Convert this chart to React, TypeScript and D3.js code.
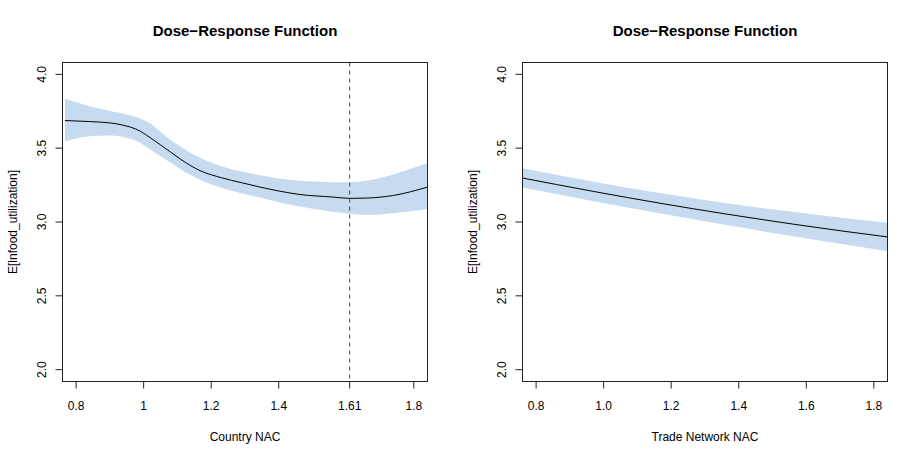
import * as d3 from "d3";

// Country NAC panel
const countryX = [0.767, 0.84, 0.9, 0.93, 0.99, 1.02, 1.05, 1.08, 1.11, 1.14, 1.17, 1.23, 1.29, 1.34, 1.4, 1.46, 1.56, 1.61, 1.66, 1.74, 1.84];
const countryFit = [3.687, 3.68, 3.671, 3.66, 3.615, 3.57, 3.522, 3.473, 3.424, 3.38, 3.345, 3.3, 3.266, 3.239, 3.21, 3.187, 3.169, 3.16, 3.162, 3.18, 3.236];
const countryLower = [3.547, 3.581, 3.586, 3.581, 3.535, 3.491, 3.445, 3.401, 3.356, 3.316, 3.282, 3.232, 3.195, 3.167, 3.133, 3.105, 3.07, 3.056, 3.048, 3.06, 3.088];
const countryUpper = [3.834, 3.784, 3.752, 3.739, 3.7, 3.667, 3.61, 3.556, 3.51, 3.468, 3.432, 3.378, 3.342, 3.318, 3.295, 3.28, 3.27, 3.27, 3.28, 3.322, 3.399];
const countryTicks = [0.8, 1, 1.2, 1.4, 1.61, 1.8];
const countryTickLabels = ["0.8", "1", "1.2", "1.4", "1.61", "1.8"];
const countryMarker = 1.61;

// Trade Network NAC panel
const tradeX = [0.75, 0.97, 1.17, 1.36, 1.56, 1.7, 1.85];
const tradeFit = [3.302, 3.207, 3.126, 3.055, 2.986, 2.941, 2.896];
const tradeLower = [3.237, 3.141, 3.057, 2.981, 2.903, 2.852, 2.799];
const tradeUpper = [3.367, 3.273, 3.195, 3.129, 3.069, 3.03, 2.993];
const tradeTicks = [0.8, 1.0, 1.2, 1.4, 1.6, 1.8];
const tradeTickLabels = ["0.8", "1.0", "1.2", "1.4", "1.6", "1.8"];

const yTicks = [2.0, 2.5, 3.0, 3.5, 4.0];
const yTickLabels = ["2.0", "2.5", "3.0", "3.5", "4.0"];

const title = "Dose\u2212Response Function";
const yTitle = "E[lnfood_utilization]";

const W = 920;
const H = 460;
const font = "'Liberation Sans', Arial, Helvetica, sans-serif";
const bandColor = "#c6dbef";

interface PanelProps {
  id: string;
  left: number;
  xs: number[];
  fit: number[];
  lower: number[];
  upper: number[];
  ticks: number[];
  tickLabels: string[];
  xTitle: string;
  marker?: number;
}

function Panel({ id, left, xs, fit, lower, upper, ticks, tickLabels, xTitle, marker }: PanelProps) {
  const top = 62.5;
  const bottom = 381.5;
  const width = 365;

  const x = d3.scaleLinear().domain([0.7597, 1.8405]).range([left, left + width]);
  const y = d3.scaleLinear().domain([1.92, 4.08]).range([bottom, top]);

  const pts = xs.map((v, i) => ({ x: v, fit: fit[i], lo: lower[i], hi: upper[i] }));

  const area = d3
    .area<(typeof pts)[number]>()
    .x((d) => x(d.x))
    .y0((d) => y(d.lo))
    .y1((d) => y(d.hi))
    .curve(d3.curveMonotoneX);

  const line = d3
    .line<(typeof pts)[number]>()
    .x((d) => x(d.x))
    .y((d) => y(d.fit))
    .curve(d3.curveMonotoneX);

  const midY = (top + bottom) / 2;

  return (
    <g>
      <defs>
        <clipPath id={id}>
          <rect x={left} y={top} width={width} height={bottom - top} />
        </clipPath>
      </defs>
      <g clipPath={`url(#${id})`}>
        <path d={area(pts) || ""} fill={bandColor} />
        <path d={line(pts) || ""} fill="none" stroke="#000" strokeWidth={1} />
        {marker !== undefined && (
          <line
            x1={x(marker)}
            x2={x(marker)}
            y1={top}
            y2={bottom}
            stroke="#444"
            strokeWidth={1}
            strokeDasharray="4,4"
          />
        )}
      </g>
      <rect x={left} y={top} width={width} height={bottom - top} fill="none" stroke="#222" strokeWidth={1} />

      {/* x axis */}
      <line x1={x(ticks[0])} x2={x(ticks[ticks.length - 1])} y1={bottom} y2={bottom} stroke="#222" />
      {ticks.map((t, i) => (
        <g key={`xt${i}`}>
          <line x1={x(t)} x2={x(t)} y1={bottom} y2={bottom + 7} stroke="#222" />
          <text x={x(t)} y={410} textAnchor="middle" fontSize={12} fontFamily={font}>
            {tickLabels[i]}
          </text>
        </g>
      ))}
      <text x={left + width / 2} y={441} textAnchor="middle" fontSize={12} fontFamily={font}>
        {xTitle}
      </text>

      {/* y axis */}
      {yTicks.map((t, i) => (
        <g key={`yt${i}`}>
          <line x1={left - 7} x2={left} y1={y(t)} y2={y(t)} stroke="#222" />
          <text
            transform={`translate(${left - 17},${y(t)}) rotate(-90)`}
            textAnchor="middle"
            fontSize={12}
            fontFamily={font}
          >
            {yTickLabels[i]}
          </text>
        </g>
      ))}
      <text
        transform={`translate(${left - 46},${midY}) rotate(-90)`}
        textAnchor="middle"
        fontSize={12}
        fontFamily={font}
      >
        {yTitle}
      </text>

      <text
        x={left + width / 2}
        y={36}
        textAnchor="middle"
        fontSize={15}
        fontWeight="bold"
        fontFamily={font}
      >
        {title}
      </text>
    </g>
  );
}

export default function App() {
  return (
    <svg
      width={W}
      height={H}
      style={{ position: "absolute", left: 0, top: 0, background: "#fff" }}
    >
      <rect width={W} height={H} fill="#fff" />
      <Panel
        id="clipA"
        left={62.5}
        xs={countryX}
        fit={countryFit}
        lower={countryLower}
        upper={countryUpper}
        ticks={countryTicks}
        tickLabels={countryTickLabels}
        xTitle="Country NAC"
        marker={countryMarker}
      />
      <Panel
        id="clipB"
        left={522.5}
        xs={tradeX}
        fit={tradeFit}
        lower={tradeLower}
        upper={tradeUpper}
        ticks={tradeTicks}
        tickLabels={tradeTickLabels}
        xTitle="Trade Network NAC"
      />
    </svg>
  );
}
